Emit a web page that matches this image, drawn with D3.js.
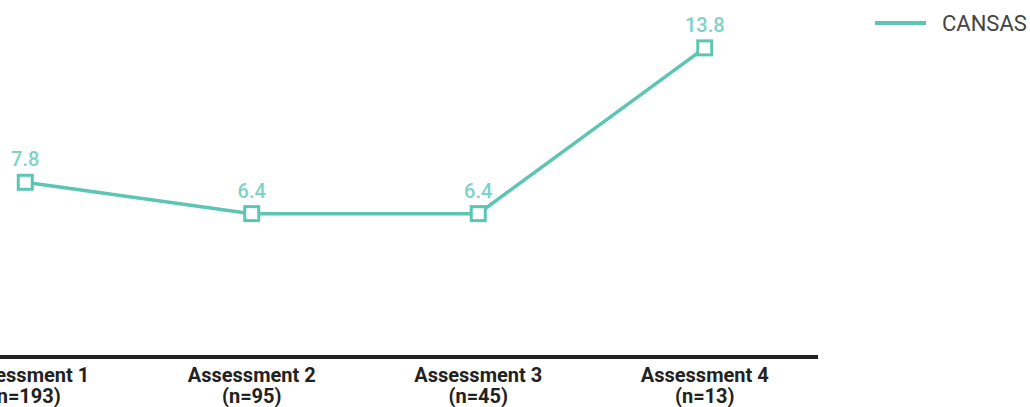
<!DOCTYPE html>
<html>
<head>
<meta charset="utf-8">
<script src="https://cdn.jsdelivr.net/npm/d3@7"></script>
<style>
  html, body { margin: 0; padding: 0; background: #fff; }
  svg { display: block; font-family: Roboto, "Noto Sans", sans-serif; }
  .cat-label { font-weight: 700; fill: #222; font-size: 20px; }
  .val-label { font-weight: 500; fill: #7dd3c5; font-size: 20px; }
  .legend-label { fill: #444; font-size: 22px; }
</style>
</head>
<body>
<svg id="chart"></svg>
<script>
const CATEGORIES = ["Assessment 1", "Assessment 2", "Assessment 3", "Assessment 4"];
const COUNTS = ["n=193", "n=95", "n=45", "n=13"];
const VALUES = [7.8, 6.4, 6.4, 13.8];
const SERIES = "CANSAS";

const W = 1030, H = 407;
const LINE_COLOR = "#5cc5b3";

const data = CATEGORIES.map((c, i) => ({ cat: c, n: COUNTS[i], v: VALUES[i] }));

const svg = d3.select("#chart").attr("width", W).attr("height", H);

// chart is clipped on the left in the original, so the band range starts off-canvas
const x = d3.scaleBand().domain(CATEGORIES).range([-88, 818]).padding(0);
const y = d3.scaleLinear().domain([0, 15]).range([357, 21]);
const cx = d => x(d.cat) + x.bandwidth() / 2;

// baseline axis
svg.append("line")
  .attr("x1", x.range()[0]).attr("x2", x.range()[1])
  .attr("y1", y(0)).attr("y2", y(0))
  .attr("stroke", "#222").attr("stroke-width", 4);

const lbl = svg.append("g").selectAll("text").data(data).join("text")
  .attr("class", "cat-label")
  .attr("text-anchor", "middle")
  .attr("x", cx);
lbl.append("tspan").attr("x", cx).attr("y", 382).text(d => d.cat);
lbl.append("tspan").attr("x", cx).attr("y", 403).text(d => `(${d.n})`);

const line = d3.line().x(cx).y(d => y(d.v));
svg.append("path").datum(data)
  .attr("d", line)
  .attr("fill", "none")
  .attr("stroke", LINE_COLOR)
  .attr("stroke-width", 3.5);

const S = 14;
svg.append("g").selectAll("rect").data(data).join("rect")
  .attr("x", d => cx(d) - S / 2)
  .attr("y", d => y(d.v) - S / 2)
  .attr("width", S).attr("height", S)
  .attr("fill", "#fff")
  .attr("stroke", LINE_COLOR)
  .attr("stroke-width", 3);

svg.append("g").selectAll("text").data(data).join("text")
  .attr("class", "val-label")
  .attr("text-anchor", "middle")
  .attr("x", cx)
  .attr("y", d => y(d.v) - 16)
  .text(d => d.v.toFixed(1));

// legend
const lg = svg.append("g").attr("transform", "translate(875,23)");
lg.append("line").attr("x1", 0).attr("x2", 51).attr("y1", 0).attr("y2", 0)
  .attr("stroke", LINE_COLOR).attr("stroke-width", 4);
lg.append("text").attr("class", "legend-label")
  .attr("x", 67).attr("y", 8).text(SERIES);
</script>
</body>
</html>
